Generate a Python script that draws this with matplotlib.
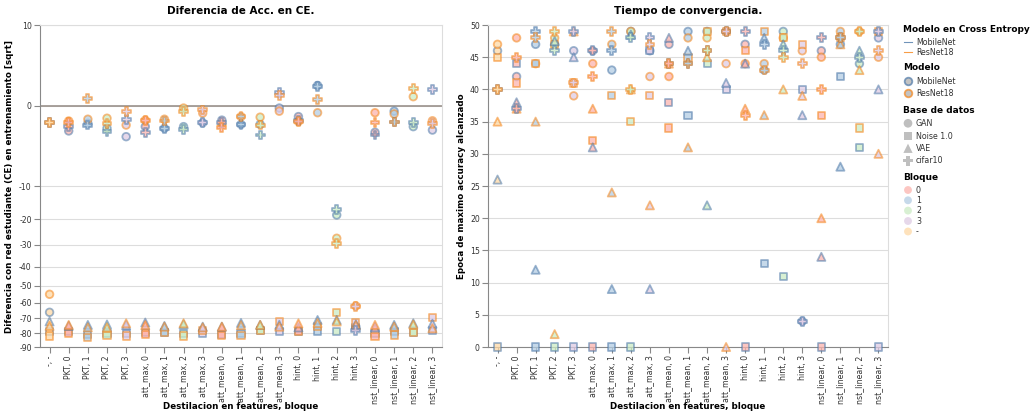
import numpy as np
import matplotlib
matplotlib.use("Agg")
from matplotlib import pyplot as plt
from matplotlib.colors import to_rgba

# Categories (x axis) and the block of each one
categories = ["-, -", "PKT, 0", "PKT, 1", "PKT, 2", "PKT, 3",
              "att_max, 0", "att_max, 1", "att_max, 2", "att_max, 3",
              "att_mean, 0", "att_mean, 1", "att_mean, 2", "att_mean, 3",
              "hint, 0", "hint, 1", "hint, 2", "hint, 3",
              "nst_linear, 0", "nst_linear, 1", "nst_linear, 2", "nst_linear, 3"]
bloque = ["-", "0", "1", "2", "3", "0", "1", "2", "3", "0", "1", "2", "3",
          "0", "1", "2", "3", "0", "1", "2", "3"]

# Left panel: accuracy difference in CE (sqrt scale)
ce_mob_gan = [-66, -1.0, -0.49, -0.80, -1.50, -0.69, -0.80, -0.69, -0.46, -0.33, -0.55,
              -0.55, -0.01, -0.19, 0.62, -18.5, -75.5, -1.11, -0.05, -0.69, -0.93]
ce_res_gan = [-55, -0.37, -0.29, -0.25, -0.59, -0.33, -0.29, -0.01, -0.09, -0.55, -0.19,
              -0.21, -0.05, -0.40, -0.08, -27.2, -62, -0.08, -0.11, 0.12, -0.36]
ce_mob_noise = [-79, -79, -81, -80.5, -80, -79.5, -79.3, -80.5, -80, -80.7, -80,
                -78, -79, -79, -79, -79, -76, -80, -79, -79.3, -78]
ce_res_noise = [-82, -80, -83, -81.5, -82, -81, -79.5, -82, -78.4, -81.5, -81.5,
                -78, -72, -79, -75.5, -66, -73, -82.4, -81.3, -79.5, -69.3]
ce_mob_vae = [-72, -75, -74.3, -74, -74.5, -72.7, -75, -74, -75.5, -75.5, -73,
              -74.3, -74.3, -76, -71, -71, -74, -76, -74.3, -73.2, -73.5]
ce_res_vae = [-75, -74.3, -76, -76, -73.2, -74.5, -75.5, -73.2, -76, -75.5, -74.5,
              -74.3, -75.5, -73.2, -73, -72, -74.5, -74.3, -75.5, -74, -76.6]
ce_mob_cifar = [-0.45, -0.69, -0.59, -1.06, -0.29, -1.14, -0.80, -0.87, -0.46, -0.45, -0.55,
                -1.34, 0.25, -0.35, 0.55, -16.6, -78, -1.34, -0.42, -0.44, 0.40]
ce_res_cifar = [-0.45, -0.46, 0.08, -0.49, -0.06, -0.33, -0.37, -0.05, -0.03, -0.76, -0.19,
                -0.59, 0.15, -0.40, 0.06, -29.3, -62.5, -0.44, -0.42, 0.46, -0.49]

# Right panel: epoch of max accuracy
ep_mob_gan = [46, 42, 47, 47, 46, 46, 43, 49, 46, 47, 49, 49, 49, 47, 43, 49, 4, 46, 47, 44, 48]
ep_res_gan = [47, 48, 44, 48, 39, 44, 47, 49, 42, 42, 48, 48, 44, 44, 44, 48, 46, 45, 49, 49, 45]
ep_mob_noise = [0, 44, 0, 0, 0, 0, 0, 0, 46, 38, 36, 44, 40, 0, 13, 11, 40, 0, 42, 31, 0]
ep_res_noise = [45, 41, 44, 47, 41, 32, 39, 35, 39, 34, 45, 49, 49, 46, 49, 48, 47, 36, 48, 34, 49]
ep_mob_vae = [26, 38, 12, 47.5, 45, 31, 9, 48.5, 9, 48, 46, 22, 41, 44, 48, 47, 36, 14, 28, 46, 40]
ep_res_vae = [35, 37, 35, 2, 49, 37, 24, 40, 22, 44, 31, 45, 0, 37, 36, 40, 39, 20, 47, 43, 30]
ep_mob_cifar = [40, 37, 49, 46, 49, 46, 46, 48, 48, 44, 44, 46, 49, 49, 47, 46, 4, 48, 48, 45, 49]
ep_res_cifar = [40, 45, 48, 49, 41, 42, 49, 40, 47, 44, 44, 46, 49, 36, 43, 45, 44, 40, 48, 49, 46]

# Colours
model_colors = {"MobileNet": "#4c78a8", "ResNet18": "#f58518"}
bloque_colors = {"0": "#fbb4ae", "1": "#b3cde3", "2": "#ccebc5", "3": "#decbe4", "-": "#fed9a6"}
shapes = {"GAN": ("o", 30), "Noise 1.0": ("s", 26), "VAE": ("^", 34), "cifar10": ("P", 40)}

plt.rcParams['font.family'] = ['DejaVu Sans']
fig = plt.figure(figsize=(10.32, 4.15), dpi=100)
ax1 = fig.add_axes([40 / 1032, 68 / 415, 402 / 1032, 322 / 415])
ax2 = fig.add_axes([488 / 1032, 68 / 415, 400 / 1032, 322 / 415])

x = np.arange(len(categories))
faces = [to_rgba(bloque_colors[b], 0.75) for b in bloque]


def draw(ax, vals, model, base):
    marker, size = shapes[base]
    ax.scatter(x, vals, s=size, marker=marker, c=faces,
               edgecolors=[to_rgba(model_colors[model], 0.55)], linewidths=1.3,
               clip_on=False, zorder=3)


series_ce = [(ce_mob_gan, "MobileNet", "GAN"), (ce_res_gan, "ResNet18", "GAN"),
             (ce_mob_noise, "MobileNet", "Noise 1.0"), (ce_res_noise, "ResNet18", "Noise 1.0"),
             (ce_mob_vae, "MobileNet", "VAE"), (ce_res_vae, "ResNet18", "VAE"),
             (ce_mob_cifar, "MobileNet", "cifar10"), (ce_res_cifar, "ResNet18", "cifar10")]
series_ep = [(ep_mob_gan, "MobileNet", "GAN"), (ep_res_gan, "ResNet18", "GAN"),
             (ep_mob_noise, "MobileNet", "Noise 1.0"), (ep_res_noise, "ResNet18", "Noise 1.0"),
             (ep_mob_vae, "MobileNet", "VAE"), (ep_res_vae, "ResNet18", "VAE"),
             (ep_mob_cifar, "MobileNet", "cifar10"), (ep_res_cifar, "ResNet18", "cifar10")]

for vals, model, base in series_ce:
    draw(ax1, vals, model, base)
for vals, model, base in series_ep:
    draw(ax2, vals, model, base)

# CE reference rule
ax1.axhline(0, color="#9a928c", lw=1.2, zorder=2)


def fwd(v):
    return np.sign(v) * np.sqrt(np.abs(v))


def inv(v):
    return np.sign(v) * v ** 2


ax1.set_yscale('function', functions=(fwd, inv))
ax1.set_ylim(-90, 10)
yt1 = [10, 0, -10, -20, -30, -40, -50, -60, -70, -80, -90]
ax1.set_yticks(yt1)
ax1.set_yticklabels([str(t) for t in yt1])
ax2.set_ylim(0, 50)
ax2.set_yticks(range(0, 51, 5))

for ax in (ax1, ax2):
    ax.set_xlim(-0.5, len(categories) - 0.5)
    ax.set_xticks(x)
    ax.set_xticklabels(categories, rotation=90)
    ax.tick_params(length=4, color="#888888", labelsize=5.6, labelcolor="#333333", width=0.8, pad=2)
    ax.yaxis.grid(True, color="#dddddd", lw=0.8)
    ax.set_axisbelow(True)
    for s in ("top", "right"):
        ax.spines[s].set_color("#dddddd")
    for s in ("left", "bottom"):
        ax.spines[s].set_color("#888888")
    ax.set_xlabel("Destilacion en features, bloque", fontsize=6.3, fontweight="bold")
    ax.xaxis.set_label_coords(0.5, -0.17)

ax1.set_ylabel("Diferencia con red estudiante (CE) en entrenamiento [sqrt]", fontsize=6.3, fontweight="bold")
ax1.yaxis.set_label_coords(-0.065, 0.5)
ax2.set_ylabel("Epoca de maximo accuracy alcanzado", fontsize=6.3, fontweight="bold")
ax2.yaxis.set_label_coords(-0.055, 0.5)
ax1.set_title("Diferencia de Acc. en CE.", fontsize=7.5, fontweight="bold", pad=8)
ax2.set_title("Tiempo de convergencia.", fontsize=7.5, fontweight="bold", pad=8)

# Legend drawn in pixel coordinates
lax = fig.add_axes([0, 0, 1, 1], facecolor="none")
lax.set_xlim(0, 1032)
lax.set_ylim(415, 0)
lax.axis("off")
tx, mx = 916, 908
fs = 5.7
tfs = 6.5
gray = to_rgba("#aaaaaa", 0.7)

lax.text(903, 30, "Modelo en Cross Entropy", fontsize=tfs, fontweight="bold", va="center")
for yy, name in [(42.5, "MobileNet"), (52.5, "ResNet18")]:
    lax.plot([mx - 4, mx + 4], [yy, yy], color=model_colors[name], lw=0.8, alpha=0.8)
    lax.text(tx, yy, name, fontsize=fs, va="center", color="#333333")

lax.text(903, 68, "Modelo", fontsize=tfs, fontweight="bold", va="center")
for yy, name in [(81, "MobileNet"), (93.5, "ResNet18")]:
    lax.scatter([mx], [yy], s=30, marker="o", c=[gray],
                edgecolors=[to_rgba(model_colors[name], 0.7)], linewidths=1.3)
    lax.text(tx, yy, name, fontsize=fs, va="center", color="#333333")

lax.text(903, 110.5, "Base de datos", fontsize=tfs, fontweight="bold", va="center")
for yy, name in [(123.3, "GAN"), (136, "Noise 1.0"), (148.3, "VAE"), (160.7, "cifar10")]:
    marker, size = shapes[name]
    lax.scatter([mx], [yy], s=size * 1.3, marker=marker, c=[to_rgba("#aaaaaa", 0.75)],
                edgecolors="none")
    lax.text(tx, yy, name, fontsize=fs, va="center", color="#333333")

lax.text(903, 177.5, "Bloque", fontsize=tfs, fontweight="bold", va="center")
for yy, name in [(190, "0"), (200.3, "1"), (210.6, "2"), (221, "3"), (231.5, "-")]:
    lax.scatter([mx], [yy], s=32, marker="o", c=[to_rgba(bloque_colors[name], 0.75)],
                edgecolors="none")
    lax.text(tx, yy, name, fontsize=fs, va="center", color="#333333")

fig.savefig("out.png", dpi=100)
